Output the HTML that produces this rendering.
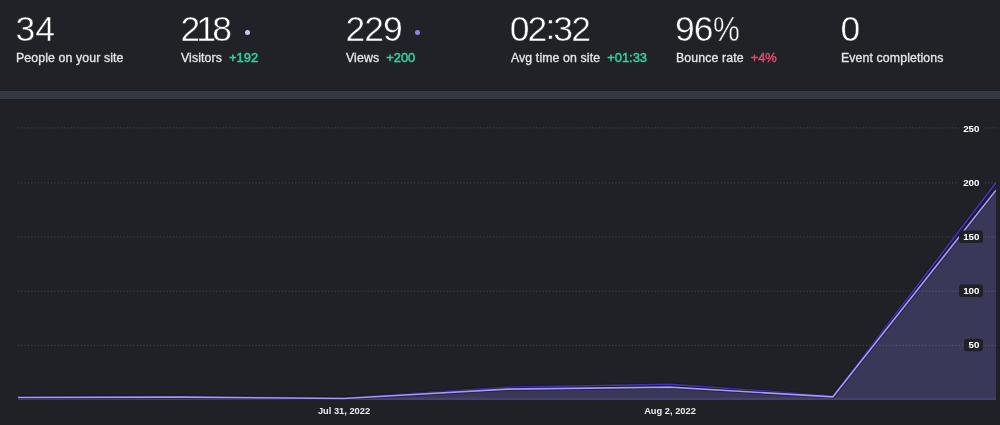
<!DOCTYPE html>
<html>
<head>
<meta charset="utf-8">
<style>
html,body{margin:0;padding:0;}
body{width:1000px;height:425px;overflow:hidden;background:#202126;font-family:"Liberation Sans",Arial,sans-serif;position:relative;}
.top{position:absolute;left:0;top:0;width:1000px;height:91px;background:#212227;}
.band{position:absolute;left:0;top:91px;width:1000px;height:8px;background:#343842;box-shadow:0 -1px 0 #1e1f24,0 1px 0 #1b1c20,inset 0 1px 0 #383c47,inset 0 -1px 0 #373b46;}
.stat{position:absolute;top:0;height:91px;}
.num{position:absolute;left:-0.6px;top:9.4px;font-size:35.5px;line-height:40px;color:#fff;white-space:nowrap;-webkit-text-stroke:0.5px #212227;}
.lab{position:absolute;left:0;top:49.8px;font-size:12.3px;line-height:16px;color:#e6e6e8;white-space:nowrap;-webkit-text-stroke:0.3px #e6e6e8;letter-spacing:0.12px;}
.d{margin-left:7px;font-size:12.9px;letter-spacing:0;}
.g{color:#30d49e;-webkit-text-stroke:0.45px #30d49e;}
.r{color:#e5486a;-webkit-text-stroke:0.45px #e5486a;}
.dot{position:absolute;top:29.5px;width:5.3px;height:5.3px;border-radius:50%;}
svg{position:absolute;left:0;top:0;}
.yl{font-family:"Liberation Sans",Arial,sans-serif;font-size:9.8px;font-weight:bold;fill:#fff;letter-spacing:0;}
</style>
</head>
<body>
<div class="top"></div>
<div class="band"></div>

<div class="stat" style="left:16px"><div class="num">34</div><div class="lab">People on your site</div></div>
<div class="stat" style="left:181px"><div class="num" style="letter-spacing:-3.8px">218</div><div class="lab">Visitors<span class="d g">+192</span></div><div class="dot" style="left:64px;background:#cdc6f8"></div></div>
<div class="stat" style="left:346px"><div class="num" style="letter-spacing:-1px">229</div><div class="lab">Views<span class="d g">+200</span></div><div class="dot" style="left:68.6px;background:#8f82f1"></div></div>
<div class="stat" style="left:511px"><div class="num" style="letter-spacing:-1.9px;left:-1.3px">02<span style="position:relative;top:-2.4px">:</span>32</div><div class="lab">Avg time on site<span class="d g">+01:33</span></div></div>
<div class="stat" style="left:676px"><div class="num" style="letter-spacing:-1px;left:-1px">96<span style="display:inline-block;transform:scaleX(0.85);transform-origin:0 0;margin-left:0.8px">%</span></div><div class="lab">Bounce rate<span class="d r">+4%</span></div></div>
<div class="stat" style="left:841px"><div class="num">0</div><div class="lab">Event completions</div></div>

<svg width="1000" height="425" viewBox="0 0 1000 425">
  <defs><clipPath id="pc"><rect x="18" y="100" width="978" height="300.5"/></clipPath></defs>
  <g clip-path="url(#pc)">
  <!-- views area -->
  <path d="M18,397 L181,396.5 L344,398 L507,387.3 L670,384.3 L833,396 L996,182.6 L996,400 L18,400 Z" fill="#23213a" fill-opacity="0.85"/>
  <!-- visitors area -->
  <path d="M18,397.5 L181,397.1 L344,398.5 L507,389.1 L670,387.2 L833,396.8 L996,190.2 L996,400 L18,400 Z" fill="#3a3858"/>
  <rect x="18" y="397.6" width="978" height="2.4" fill="#45416c"/>
  </g>
  <g stroke="#fff" stroke-opacity="0.18" stroke-width="1" stroke-dasharray="1.1 2.2">
    <line x1="18" y1="127.9" x2="997" y2="127.9"/>
    <line x1="18" y1="182.9" x2="997" y2="182.9"/>
    <line x1="18" y1="236.9" x2="997" y2="236.9"/>
    <line x1="18" y1="291.2" x2="997" y2="291.2"/>
    <line x1="18" y1="345.3" x2="997" y2="345.3"/>
  </g>
  <g clip-path="url(#pc)" fill="none" stroke-linejoin="round">
  <path d="M18,397 L181,396.5 L344,398 L507,387.3 L670,384.3 L833,396 L996,182.6" stroke="#111116" stroke-opacity="0.45" stroke-width="3.4"/>
  <path d="M18,397 L181,396.5 L344,398 L507,387.3 L670,384.3 L833,396 L996,182.6" stroke="#4233ba" stroke-width="1.6"/>
  <path d="M18,397.5 L181,397.1 L344,398.5 L507,389.1 L670,387.2 L833,396.8 L996,190.2" stroke="#111116" stroke-opacity="0.5" stroke-width="3.6"/>
  <path d="M18,397.5 L181,397.1 L344,398.5 L507,389.1 L670,387.2 L833,396.8 L996,190.2" stroke="#a496fb" stroke-width="1.7"/>
  </g>

  <g>
    <rect x="959" y="122.5" width="24" height="12.5" rx="2.5" fill="#202127"/>
    <text class="yl" x="979.5" y="131.8" text-anchor="end">250</text>
    <rect x="959" y="176.5" width="24" height="12.5" rx="2.5" fill="#202127"/>
    <text class="yl" x="979.5" y="185.9" text-anchor="end">200</text>
    <rect x="959" y="230.5" width="24" height="12.5" rx="2.5" fill="#202127"/>
    <text class="yl" x="979.5" y="240" text-anchor="end">150</text>
    <rect x="959" y="284.5" width="24" height="12.5" rx="2.5" fill="#202127"/>
    <text class="yl" x="979.5" y="294.1" text-anchor="end">100</text>
    <rect x="964" y="338.8" width="19" height="12.5" rx="2.5" fill="#202127"/>
    <text class="yl" x="979.5" y="348.4" text-anchor="end">50</text>
  </g>
  <text class="yl" x="344" y="414.4" text-anchor="middle" style="font-size:9.3px;fill:#ececee">Jul 31, 2022</text>
  <text class="yl" x="670" y="414.4" text-anchor="middle" style="font-size:9.3px;fill:#ececee">Aug 2, 2022</text>
</svg>
</body>
</html>
